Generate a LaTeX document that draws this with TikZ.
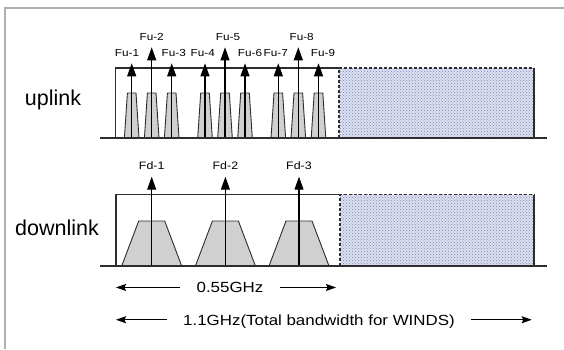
\documentclass[tikz,border=0pt]{standalone}
\usepackage{fontspec}
\setmainfont{Liberation Sans}
\newfontfamily\widesans[FakeStretch=1.15]{Liberation Sans}
\usepackage{tikz}
\usetikzlibrary{shapes,arrows,arrows.meta,positioning,patterns}
\usepackage{xcolor}
\definecolor{linegray}{RGB}{45,45,45}
\definecolor{framegray}{RGB}{175,175,175}
\definecolor{carrierfill}{RGB}{208,208,208}
\definecolor{spareblue}{RGB}{220,224,240}
\definecolor{sparedots}{RGB}{125,135,185}

\begin{document}
\begin{tikzpicture}[
    x=1pt, y=-1pt,
    axis/.style={draw=linegray, line width=1.8pt},
    band/.style={draw=linegray, line width=1.3pt},
    spare/.style={draw=linegray, line width=1.3pt, dash pattern=on 3pt off 2pt},
    carrier/.style={draw=linegray, line width=0.9pt, fill=carrierfill},
    sig/.style={-{Triangle[length=13pt,width=9pt]}, line width=1.1pt},
    dim/.style={-{Stealth[length=10pt,width=7pt,inset=1.5pt]}, line width=1.1pt},
    linkname/.style={font=\fontsize{21.5}{24}\selectfont, inner sep=0pt, anchor=base},
    chan/.style={font=\widesans\fontsize{10.2}{11}\selectfont, inner sep=0pt, anchor=base},
    dimtext/.style={font=\widesans\fontsize{14.7}{16}\selectfont, inner ysep=0pt, inner xsep=16pt,
        text height=10.5pt, text depth=0pt, anchor=base}
]
    \useasboundingbox (0,0) rectangle (564,349);
    \draw[framegray, line width=1.2pt] (5,349) -- (5,8) -- (564,8);

    \node[linkname] (uplink) at (53,105) {uplink};
    \node[linkname] (downlink) at (57,235) {downlink};

    \fill[spareblue] (339,68) rectangle (534,138);
    \fill[pattern=crosshatch dots, pattern color=sparedots] (339,68) rectangle (534,138);
    \draw[spare] (339,138) -- (339,68) -- (534,68);
    \draw[band] (534,68) -- (534,138);
    \draw[band] (115.7,138) -- (115.7,68) -- (339,68);

    \fill[spareblue] (340,194.5) rectangle (534,266);
    \fill[pattern=crosshatch dots, pattern color=sparedots] (340,194.5) rectangle (534,266);
    \draw[spare] (340,266) -- (340,194.5) -- (534,194.5);
    \draw[band] (534,194.5) -- (534,266);
    \draw[band] (116,266) -- (116,194.5) -- (340,194.5);

    \foreach \n/\x/\tip/\lx/\ly in {1/131.7/63.3/127/56, 2/151.7/47.3/151.7/40, 3/171.7/63.3/173.8/56,
        4/205/63.3/202.8/56, 5/225/47.3/228/40, 6/245/63.3/250/56,
        7/278.3/63.3/275.8/56, 8/298.3/47.3/301.7/40, 9/318.5/63.3/323/56} {
        \filldraw[carrier] (\x-7.3,138) -- (\x-4.3,93) -- (\x+4.3,93) -- (\x+7.3,138) -- cycle;
        \coordinate (fu\n-base) at (\x,138);
        \coordinate (fu\n-tip) at (\x,\tip);
        \draw[sig] (fu\n-base) -- (fu\n-tip);
        \node[chan] (fu\n) at (\lx,\ly) {Fu-\n};
    }

    \foreach \n/\x in {1/151.7, 2/225.4, 3/299} {
        \filldraw[carrier] (\x-30,266) -- (\x-13,221) -- (\x+13,221) -- (\x+30,266) -- cycle;
        \coordinate (fd\n-base) at (\x,266);
        \coordinate (fd\n-tip) at (\x,176.7);
        \draw[sig] (fd\n-base) -- (fd\n-tip);
        \node[chan, font=\widesans\fontsize{10.8}{12}\selectfont] (fd\n) at (\x,169.3) {Fd-\n};
    }

    \draw[axis] (100,138) -- (547,138);
    \draw[axis] (100,266) -- (547,266);

    \node[dimtext] (half) at (230,292.7) {0.55GHz};
    \coordinate (half-l) at (116,0);
    \coordinate (half-r) at (336,0);
    \draw[dim] (half.west) -- (half.west -| half-l);
    \draw[dim] (half.east) -- (half.east -| half-r);

    \node[dimtext] (total) at (319,325) {1.1GHz(Total bandwidth for WINDS)};
    \coordinate (total-l) at (116,0);
    \coordinate (total-r) at (531.7,0);
    \draw[dim] (total.west) -- (total.west -| total-l);
    \draw[dim] (total.east) -- (total.east -| total-r);
\end{tikzpicture}
\end{document}
